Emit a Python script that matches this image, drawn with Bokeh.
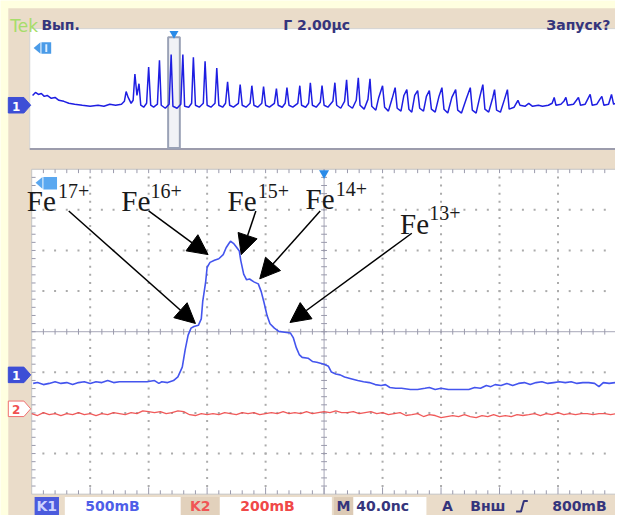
from bokeh.plotting import figure
from bokeh.models import Range1d, Arrow, NormalHead, ColumnDataSource
from bokeh.core.properties import value
from bokeh.embed import file_html
from bokeh.resources import INLINE

# ---------------- data ----------------
# Channel 1, main window (40 ns/div, 500 mV/div): time in ns, signal in mV
ch1_t_ns = [-199, -196, -192, -188, -184, -180, -176, -172, -168, -164,
            -160, -156, -152, -148, -144, -140, -135, -128, -121, -116,
            -113, -111, -107, -103, -100, -97, -95, -93, -91, -89,
            -86, -84, -83, -81, -80, -78, -75, -72, -69, -67,
            -65, -64, -62, -60, -58, -57, -55, -53, -51, -48,
            -45, -43, -41, -39, -37, -34, -31, -27, -23, -21,
            -19, -17, -15, -11, -8, -5, 0, 3, 5, 8,
            11, 14, 19, 23, 27, 31, 35, 39, 42, 45,
            49, 53, 59, 64, 69, 72, 76, 80, 85, 92,
            99, 103, 107, 111, 114, 117, 121, 125, 129, 133,
            137, 141, 145, 149, 153, 157, 161, 165, 169, 173,
            177, 181, 185, 188, 191, 195, 199]
ch1_mv = [-105, -95, -120, -105, -85, -105, -95, -120, -95, -85,
          -105, -85, -95, -70, -95, -85, -85, -85, -85, -70,
          -105, -85, -95, -70, -25, 95, 310, 490, 575, 595,
          610, 690, 905, 1145, 1325, 1385, 1410, 1430, 1480, 1565,
          1620, 1645, 1620, 1575, 1525, 1410, 1240, 1170, 1180, 1145,
          1120, 1025, 885, 730, 630, 575, 535, 525, 515, 455,
          335, 250, 215, 205, 165, 155, 130, 105, 35, 10,
          0, -25, -50, -70, -85, -95, -120, -130, -120, -155,
          -165, -165, -180, -180, -165, -155, -180, -165, -180, -180,
          -180, -155, -165, -130, -145, -120, -130, -105, -130, -105,
          -95, -120, -95, -85, -105, -95, -85, -95, -85, -105,
          -95, -95, -105, -145, -95, -105, -95]

# Channel 2, main window (200 mV/div): time in ns, signal in mV
ch2_t_ns = list(range(-200, 201, 4))
ch2_mv = [-24, -33, -19, -29, -24, -33, -24, -29, -19, -29,
          -24, -33, -24, -29, -19, -24, -29, -19, -24, -10,
          -14, -19, -14, -24, -19, -10, -14, -29, -33, -24,
          -29, -24, -29, -19, -24, -29, -19, -24, -19, -29,
          -24, -19, -24, -14, -24, -19, -24, -14, -24, -19,
          -14, -19, -10, -19, -19, -14, -24, -19, -14, -24,
          -19, -29, -24, -19, -33, -29, -24, -38, -29, -33,
          -43, -38, -33, -38, -29, -38, -43, -33, -38, -29,
          -38, -33, -38, -29, -33, -29, -24, -33, -24, -29,
          -19, -29, -24, -29, -24, -24, -29, -24, -24, -29,
          -24]

# Channel 1, whole record (overview, 2 us/div): time in us, signal in mV
ov_t_us = [0.03, 0.13, 0.23, 0.33, 0.43, 0.53, 0.67, 0.80, 0.93, 1.10,
           1.27, 1.47, 1.73, 2.00, 2.27, 2.47, 2.67, 2.87, 3.07, 3.17,
           3.23, 3.30, 3.40, 3.47, 3.53, 3.60, 3.67, 3.73, 3.83, 3.93,
           4.00, 4.07, 4.17, 4.30, 4.37, 4.43, 4.57, 4.70, 4.77, 4.83,
           4.97, 5.10, 5.17, 5.23, 5.37, 5.47, 5.53, 5.60, 5.73, 5.87,
           5.93, 6.00, 6.13, 6.27, 6.33, 6.40, 6.53, 6.63, 6.70, 6.77,
           6.90, 7.07, 7.13, 7.20, 7.33, 7.47, 7.53, 7.60, 7.73, 7.87,
           7.93, 8.00, 8.13, 8.30, 8.37, 8.43, 8.57, 8.67, 8.73, 8.80,
           8.93, 9.10, 9.17, 9.23, 9.37, 9.47, 9.53, 9.60, 9.73, 9.87,
           9.93, 10.00, 10.13, 10.30, 10.37, 10.43, 10.57, 10.70, 10.77, 10.83,
           10.97, 11.10, 11.17, 11.23, 11.37, 11.50, 11.57, 11.63, 11.77, 11.87,
           12.00, 12.07, 12.20, 12.33, 12.43, 12.50, 12.63, 12.73, 12.83, 12.90,
           13.00, 13.10, 13.20, 13.27, 13.40, 13.50, 13.60, 13.67, 13.80, 13.93,
           14.03, 14.10, 14.23, 14.37, 14.50, 14.57, 14.70, 14.87, 15.00, 15.07,
           15.20, 15.33, 15.43, 15.50, 15.63, 15.77, 15.83, 15.90, 16.03, 16.17,
           16.27, 16.33, 16.50, 16.63, 16.70, 16.87, 17.00, 17.13, 17.33, 17.47,
           17.67, 17.80, 17.87, 17.93, 18.10, 18.20, 18.27, 18.33, 18.53, 18.63,
           18.70, 18.77, 18.93, 19.03, 19.10, 19.17, 19.33, 19.43, 19.50, 19.57,
           19.73, 19.83, 19.90, 19.97]
ov_mv = [325, 425, 360, 390, 295, 325, 230, 260, 165, 130,
         65, 35, 0, -35, 0, -35, 35, 0, 35, 130,
         455, 260, 65, 165, 1040, 325, 715, 0, -65, 65,
         1270, 0, -65, 35, 1495, 0, -100, 35, 1690, -35,
         -100, 35, 1690, -35, -65, 65, 1595, 0, -65, 65,
         1465, 0, -65, 65, 1235, 0, -65, 65, 780, 0,
         -65, 65, 685, 0, -65, 65, 650, 0, -65, 65,
         620, 0, -65, 65, 555, 0, -65, 65, 585, 0,
         -65, 65, 650, 0, -65, 65, 750, 0, -65, 100,
         650, 0, -65, 130, 750, 0, -100, 130, 845, 0,
         -100, 165, 910, 0, -130, 195, 880, -35, -165, 260,
         650, -65, -195, 230, 585, -100, -195, 325, 520, -130,
         -230, 325, 490, -100, -195, 295, 490, -130, -230, 295,
         585, -130, -260, 260, 520, -165, -260, 230, 585, -165,
         -260, 295, 685, -130, -230, 260, 520, -165, -230, 195,
         520, -130, -65, 165, 0, -35, 65, -35, 0, -35,
         0, 65, 260, 0, 35, 130, 260, 0, 35, 165,
         260, 0, 35, 230, 360, 0, 35, 195, 295, 0,
         35, 360, 35, 65]

ion_names = ["Fe", "Fe", "Fe", "Fe", "Fe"]
ion_charges = ["17+", "16+", "15+", "14+", "13+"]

header_texts = ["Вып.", "Г 2.00µс", "Запуск?"]
ch1_scale_text = "500mB"
ch2_scale_text = "200mB"
time_scale_text = "40.0nc"
trigger_texts = ["A", "Внш", "800mB"]

# ---------------- screen geometry (reference pixels) ----------------
CW, CH = 631, 531
ML, MR, MT, MB = 32, 632, 174, 509          # main graticule
NDX, NDY = 10, 8
DX = (MR - ML) / NDX
DY = (MB - MT) / NDY
T_DIV_NS = 40.0
CH1_MV_DIV, CH2_MV_DIV = 500.0, 200.0
CH1_Y0, CH2_Y0 = 386, 421                    # channel ground markers
OL, OT, OB = 30, 29, 153                     # overview window
OV_X0, OV_SPAN_US = 32, 20.0
OV_Y0 = 108
OV_PX_MV = (OB - OT) / 8 / 500.0

BEIGE = "#EADCC9"
NAVY = "#35357C"

p = figure(width=615, height=515, x_range=Range1d(0, CW), y_range=Range1d(CH, 0),
           output_backend="svg", toolbar_location=None, min_border=0,
           x_axis_location=None, y_axis_location=None)
p.grid.visible = False
p.outline_line_color = None
p.background_fill_color = "#FFFFE0"
p.border_fill_color = "#FFFFE0"

cx = (ML + MR) / 2
cy = (MT + MB) / 2


def t_main(px):
    return (px - cx) / DX * T_DIV_NS


def mv_at(px, y0, mv_div):
    return (y0 - px) / DY * mv_div


p.extra_x_ranges = {
    "t_main": Range1d(t_main(0), t_main(CW)),
    "t_ov": Range1d((0 - OV_X0) * OV_SPAN_US / (MR - ML), (CW - OV_X0) * OV_SPAN_US / (MR - ML)),
}
p.extra_y_ranges = {
    "ch1": Range1d(mv_at(CH, CH1_Y0, CH1_MV_DIV), mv_at(0, CH1_Y0, CH1_MV_DIV)),
    "ch2": Range1d(mv_at(CH, CH2_Y0, CH2_MV_DIV), mv_at(0, CH2_Y0, CH2_MV_DIV)),
    "ov": Range1d((OV_Y0 - CH) / OV_PX_MV, OV_Y0 / OV_PX_MV),
}

# frame
p.quad(left=[8], right=[CW], top=[8], bottom=[CH], fill_color=BEIGE, line_color=None)
p.quad(left=[OL], right=[CW], top=[OT], bottom=[OB], fill_color="white", line_color="#D4D4D4")
p.segment(x0=[OL], y0=[OB], x1=[CW], y1=[OB], line_color="#9C9CAC", line_width=2)
p.quad(left=[ML], right=[CW + 2], top=[MT], bottom=[MB], fill_color="white", line_color="#C4C4C4")

# graticule dots
gx, gy = [], []
for k in range(1, NDX):
    if k == NDX // 2:
        continue
    for j in range(1, NDY * 5):
        gx.append(ML + k * DX)
        gy.append(MT + j * DY / 5)
for k in range(1, NDY):
    if k == NDY // 2:
        continue
    for j in range(1, NDX * 5):
        gx.append(ML + j * DX / 5)
        gy.append(MT + k * DY)
p.scatter(gx, gy, marker="square", size=2, fill_color="#ABABAB", line_color=None)

# centre cross with ticks, edge ticks
TICK = "#9A9AAC"
p.segment(x0=[cx, ML], y0=[MT, cy], x1=[cx, MR], y1=[MB, cy], line_color="#A8A8B8", line_width=1)
tx0, ty0, tx1, ty1 = [], [], [], []
for j in range(1, NDX * 5):
    x = ML + j * DX / 5
    tx0 += [x, x, x]; ty0 += [cy - 3, MT, MB - (7 if j % 5 == 0 else 4)]
    tx1 += [x, x, x]; ty1 += [cy + 3, MT + 4, MB]
for j in range(1, NDY * 5):
    y = MT + j * DY / 5
    tx0 += [cx - 3, ML]; ty0 += [y, y]
    tx1 += [cx + 3, ML + 4]; ty1 += [y, y]
p.segment(x0=tx0, y0=ty0, x1=tx1, y1=ty1, line_color=TICK, line_width=1)

# overview zoom bracket and icons
p.quad(left=[172], right=[184], top=[38], bottom=[152], fill_color="#F1F2F6",
       line_color="#9AA2B6", line_width=2)
p.scatter([178], [34], marker="inverted_triangle", size=9, fill_color="#2A8BE8", line_color=None)
p.scatter([cx], [178], marker="inverted_triangle", size=10, fill_color="#2A8BE8", line_color=None)
p.patch([34, 41, 41], [49, 43, 55], fill_color="#4A9BE8", line_color=None)
p.quad(left=[42], right=[52], top=[43], bottom=[55], fill_color="#4A9BE8", line_color=None)
p.quad(left=[46], right=[48], top=[45], bottom=[53], fill_color="#DDEEFF", line_color=None)
p.patch([36, 43, 43], [188, 182, 194], fill_color="#5AA8F0", line_color=None)
p.quad(left=[44], right=[58], top=[182], bottom=[195], fill_color="#5AA8F0", line_color=None)

# traces
p.line(ch2_t_ns, ch2_mv, x_range_name="t_main", y_range_name="ch2",
       line_color="#EE4848", line_width=1.3, line_alpha=0.9)
p.line(ch1_t_ns, ch1_mv, x_range_name="t_main", y_range_name="ch1",
       line_color="#4455EE", line_width=1.6)
p.line(ov_t_us, ov_mv, x_range_name="t_ov", y_range_name="ov",
       line_color="#1E1EE2", line_width=1.5)


# channel markers
def marker(y, fill, line, label, tcolor):
    p.patch([8, 24, 31, 24, 8], [y - 8, y - 8, y, y + 8, y + 8], fill_color=fill,
            line_color=line, line_width=1)
    p.text([16], [y + 1], text=[label], text_color=tcolor, text_font=value("DejaVu Sans"),
           text_font_style="bold", text_font_size="12px", text_align="center",
           text_baseline="middle")


marker(CH1_Y0, "#3D4ED6", "#3D4ED6", "1", "white")
marker(CH2_Y0, "white", "#F07070", "2", "#F05050")
marker(OV_Y0, "#3D4ED6", "#3D4ED6", "1", "white")

# header
p.text([10], [26], text=["Tek"], text_color="#A6DD6A", text_font=value("DejaVu Sans"),
       text_font_size="17px", text_baseline="alphabetic")
p.text([42, 290, 560], [25, 25, 25], text=header_texts, text_color=NAVY,
       text_font=value("DejaVu Sans"), text_font_style="bold", text_font_size="14px",
       text_baseline="alphabetic")

# status bar
p.quad(left=[35, 66, 185, 225, 342, 362], right=[60, 185, 225, 340, 362, 437],
       top=[512] * 6, bottom=[531] * 6,
       fill_color=["#4B5BDD", "white", "#E2D1BC", "white", "#DCCAB5", "white"],
       line_color=None)
SB = 521
sfont = dict(text_font=value("DejaVu Sans"), text_font_style="bold", text_font_size="14px",
             text_baseline="middle")
p.text([47.5], [SB], text=["K1"], text_color="#CDD3FF", text_align="center", **sfont)
p.text([87], [SB], text=[ch1_scale_text], text_color="#4E5EE8", **sfont)
p.text([205], [SB], text=["K2"], text_color="#F05555", text_align="center", **sfont)
p.text([246], [SB], text=[ch2_scale_text], text_color="#F04848", **sfont)
p.text([352], [SB], text=["M"], text_color=NAVY, text_align="center", **sfont)
p.text([365], [SB], text=[time_scale_text], text_color=NAVY, **sfont)
p.text([453, 482, 566], [SB] * 3, text=trigger_texts, text_color=NAVY, **sfont)
p.line([529, 534, 537, 541], [527, 527, 516, 516], line_color=NAVY, line_width=2)

# ion annotations
fe_x = [27, 124, 233, 313, 410]
fe_y = [207, 207, 207, 205, 230]
sup_x = [59, 154, 264, 344, 440]
sup_y = [196, 196, 196, 194, 219]
p.text(fe_x, fe_y, text=ion_names, text_color="#1A1A1A", text_font=value("Liberation Serif"),
       text_font_size="29px", text_baseline="alphabetic")
p.text(sup_x, sup_y, text=ion_charges, text_color="#1A1A1A", text_font=value("Liberation Serif"),
       text_font_size="20px", text_baseline="alphabetic")

arr = ColumnDataSource(dict(
    xs=[70, 152, 262, 328, 422], ys=[217, 217, 217, 217, 240],
    xe=[200, 213, 247, 266, 297], ye=[333, 262, 262, 287, 332]))
p.add_layout(Arrow(end=NormalHead(size=20, fill_color="black", line_color="black"),
                   x_start="xs", y_start="ys", x_end="xe", y_end="ye", source=arr,
                   line_color="black", line_width=1.5))

open("out.html", "w").write(file_html(p, INLINE))
